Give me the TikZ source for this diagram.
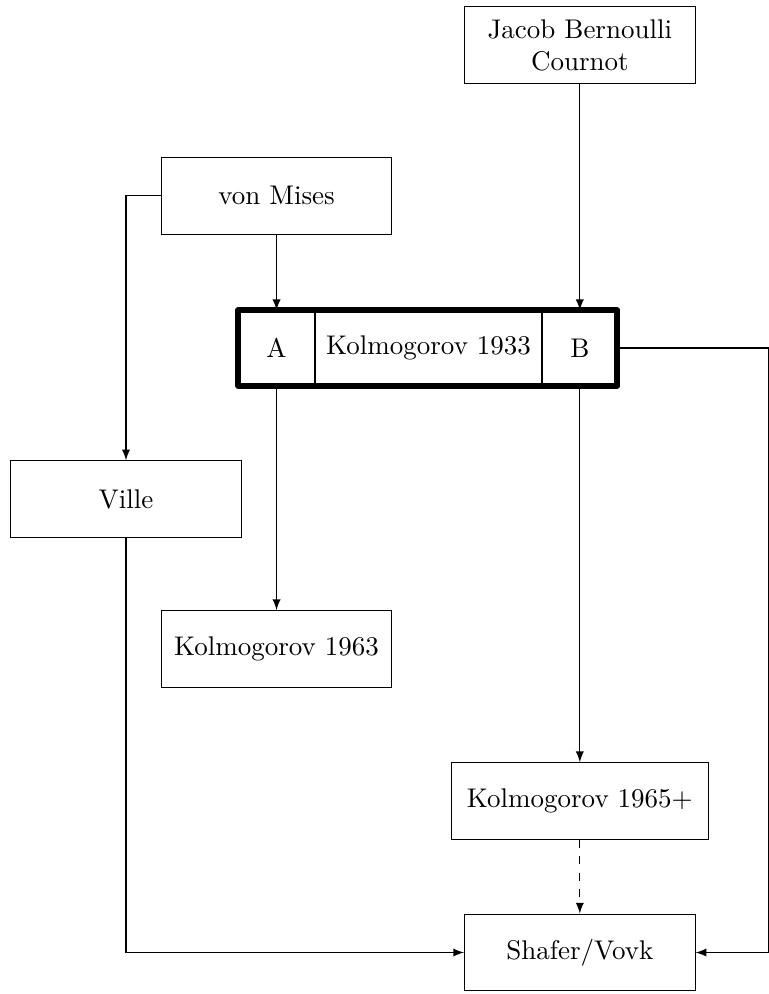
\documentclass[tikz,border=0pt]{standalone}
\usepackage{amsmath}
\usepackage{tikz}
\pgfdeclarelayer{background}
\pgfdeclarelayer{foreground}
\pgfsetlayers{background,main,foreground}
\tikzset{
  box/.style={draw, minimum width=3cm, minimum height=1cm, align=center},
  cell/.style={draw, minimum height=0.97cm, inner sep=0pt},
  link/.style={-latex}
}

\begin{document}
\begin{tikzpicture}
\useasboundingbox (0,0) rectangle (10,-12.94);
\node[box] (vm) at (3.6,-2.55) {von Mises};
\node[cell,minimum width=0.98cm] (a) at (3.6,-4.53) {A};
\node[cell,minimum width=2.95cm,anchor=west] (k33) at (a.east) {Kolmogorov 1933};
\node[cell,minimum width=0.96cm,anchor=west] (b) at (k33.east) {B};
\node[box] (jb) at (b |- 0,-0.59) {Jacob Bernoulli\\Cournot};
\node[box] (ville) at (1.64,-6.5) {Ville};
\node[box] (k63) at (3.6,-8.45) {Kolmogorov 1963};
\node[box,minimum width=3.35cm] (k65) at (b |- 0,-10.43) {Kolmogorov 1965+};
\node[box] (sv) at (b |- 0,-12.4) {Shafer/Vovk};
\coordinate (rim) at (10,0);
\begin{pgfonlayer}{foreground}
\draw[line width=2.2pt, line join=round] (a.north west) rectangle (b.south east);
\end{pgfonlayer}
\begin{pgfonlayer}{background}
\draw[link] (jb) -- (b);
\draw[link] (vm) -- (a);
\draw[link] (vm.west) -| (ville.north);
\draw[link] (a) -- (k63);
\draw[link] (b) -- (k65);
\draw[link,dashed] (k65) -- (sv);
\draw[link] (ville.south) |- (sv.west);
\draw[link] (b.east) -- (b.east -| rim) |- (sv.east);
\end{pgfonlayer}
\end{tikzpicture}
\end{document}
